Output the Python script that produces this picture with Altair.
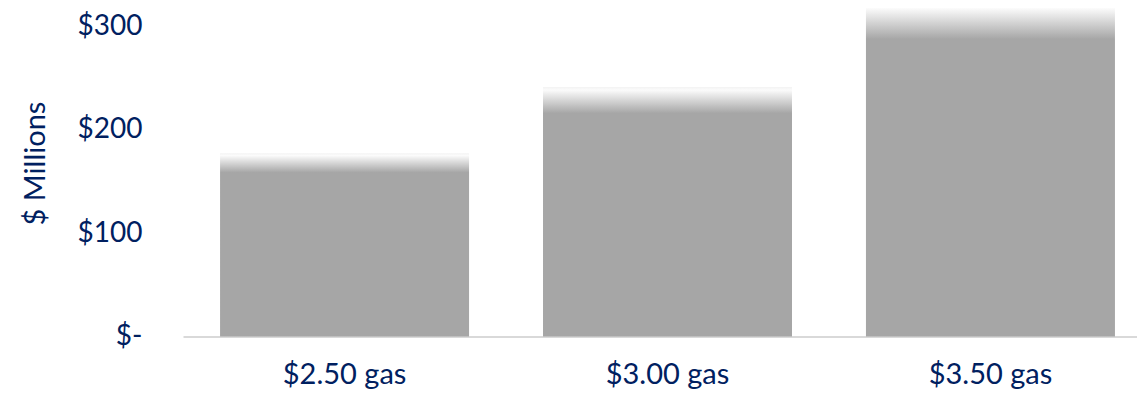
import altair as alt
import pandas as pd

categories = ["$2.50 gas", "$3.00 gas", "$3.50 gas"]
values = [177, 241, 321]
y_ticks = [0, 100, 200, 300]

df = pd.DataFrame({"scenario": categories, "value": values})

navy = "#002060"
grad = alt.Gradient(
    gradient="linear",
    x1=0, y1=0, x2=0, y2=1,
    stops=[
        alt.GradientStop(offset=0.0, color="#f3f3f3"),
        alt.GradientStop(offset=0.012, color="#fbfbfb"),
        alt.GradientStop(offset=0.105, color="#a6a6a6"),
        alt.GradientStop(offset=1.0, color="#a6a6a6"),
    ],
)

chart = alt.Chart(df).mark_bar(color=grad, clip=False).encode(
    x=alt.X(
        "scenario:N",
        sort=categories,
        title=None,
        scale=alt.Scale(paddingInner=0.229, paddingOuter=0.0915, align=0.627),
        axis=alt.Axis(
            labelAngle=0,
            labelFont="Lato",
            labelFontSize=29,
            labelColor=navy,
            labelPadding=24,
            ticks=False,
            domainColor="#d9d9d9",
            domainWidth=2,
        ),
    ),
    y=alt.Y(
        "value:Q",
        scale=alt.Scale(domain=[0, 317.4], nice=False, zero=True),
        title="$ Millions",
        axis=alt.Axis(
            values=y_ticks,
            labelExpr="datum.value == 0 ? '$-' : '$' + datum.value",
            labelFont="Lato",
            labelFontSize=28,
            labelColor=navy,
            labelPadding=41,
            ticks=False,
            domain=False,
            grid=False,
            titleFont="Lato",
            titleFontSize=29,
            titleFontWeight="normal",
            titleColor=navy,
            titleAlign="center",
            titleBaseline="middle",
            titleAngle=-90,
            titleX=-148,
            titleY=155,
        ),
    ),
).properties(
    width=954,
    height=328.5,
    padding={"left": 175, "top": 0, "right": 0, "bottom": 62},
    autosize="none",
).configure_view(stroke=None)

chart.save("out.html", embed_options={"renderer": "svg", "actions": False})
